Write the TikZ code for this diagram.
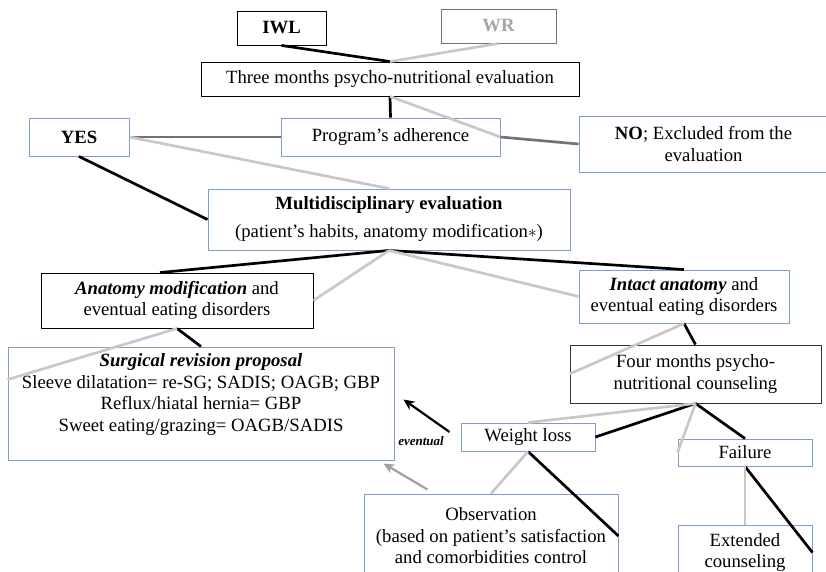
\documentclass[tikz,border=0pt]{standalone}
\usepackage{fontspec}
\setmainfont{Liberation Serif}
\usetikzlibrary{arrows.meta}
\definecolor{boxblue}{RGB}{126,158,196}
\definecolor{lightline}{RGB}{200,200,200}
\definecolor{darkline}{RGB}{115,115,115}
\definecolor{wrgray}{RGB}{165,165,165}
\definecolor{arrowgray}{RGB}{160,160,160}

\begin{document}
\begin{tikzpicture}[x=1pt, y=-1pt,
    every node/.style={font=\fontsize{18.7}{21.5}\selectfont, align=center, inner sep=0pt},
    blackbox/.style={draw=black, line width=0.9pt},
    bluebox/.style={draw=boxblue, line width=0.9pt},
    blackline/.style={line width=2.7pt, black},
    grayline/.style={line width=2.7pt, lightline},
    darkgrayline/.style={line width=2.7pt, darkline}]
    \clip (0,0) rectangle (826,571);

    % First place all the boxes
    \node[blackbox, minimum width=89pt, minimum height=34pt] (iwl) at (281.5,28) {\textbf{IWL}};
    \node[blackbox, draw=darkline, minimum width=115pt, minimum height=34pt, text=wrgray] (wr) at (498.5,26) {\textbf{WR}};
    \node[blackbox, minimum width=378pt, minimum height=34pt] (three) at (390,79) {Three months psycho-nutritional\ evaluation};
    \node[bluebox, minimum width=100pt, minimum height=38pt] (yes) at (79,137) {\textbf{YES}};
    \node[bluebox, minimum width=219pt, minimum height=38pt] (adher) at (390.5,137) {Program's adherence};
    \node[bluebox, minimum width=249pt, minimum height=56pt] (no) at (703.5,144) {\textbf{NO}; Excluded\ from the\\evaluation};
    \node[bluebox, minimum width=362pt, minimum height=61pt] (multi) at (389,219.5) {\textbf{Multidisciplinary\ evaluation}\\[6.5pt](patient's habits, anatomy modification$\ast$)};
    \node[blackbox, minimum width=272pt, minimum height=55pt] (anat) at (177,300.5) {\textbf{\textit{Anatomy modification}} and\\eventual eating disorders};
    \node[bluebox, minimum width=210pt, minimum height=53pt] (intact) at (684,296.5) {\textbf{\textit{Intact anatomy}} and\\eventual eating disorders};
    \node[bluebox, minimum width=386pt, minimum height=113pt] (surg) at (201,403.5) {\textbf{\textit{Surgical revision proposal}}\\Sleeve dilatation= re-SG; SADIS;\ OAGB; GBP\\Reflux/hiatal hernia= GBP\\Sweet eating/grazing=\ OAGB/SADIS\\\mbox{}};
    \node[blackbox, draw=black!80, minimum width=251pt, minimum height=58pt] (four) at (695.5,374) {Four months psycho-\\nutritional counseling};
    \node[bluebox, minimum width=134pt, minimum height=28pt] (wloss) at (528,437) {Weight\ loss};
    \node[bluebox, minimum width=134pt, minimum height=27pt] (fail) at (745,452.5) {Failure};
    \node[bluebox, minimum width=254pt, minimum height=84pt] (obs) at (491,536) {Observation\\(based on patient's satisfaction\\and comorbidities control};
    \node[bluebox, minimum width=134pt, minimum height=55pt] (ext) at (745,552.5) {Extended\\counseling};
    \node[font=\fontsize{13}{15}\selectfont\bfseries\itshape] (evlabel) at (421,441) {eventual};

    % Then the connectors
    \draw[blackline] (iwl.south) -- (three.north);
    \draw[grayline] (wr.south) -- (three.north);
    \draw[blackline] (three.south) -- (adher.north);
    \draw[grayline] (three.south) -- (adher.east);
    \draw[darkgrayline] (yes.east) -- (adher.west);
    \draw[darkgrayline] (adher.east) -- (no.west);
    \draw[grayline] (yes.east) -- (multi.north);
    \draw[blackline] (yes.south) -- (multi.west);
    \draw[blackline] (multi.south) -- ([xshift=-17pt]anat.north);
    \draw[blackline] (multi.south) -- (intact.north);
    \draw[grayline] (multi.south) -- (anat.east);
    \draw[grayline] (multi.south) -- (intact.west);
    \draw[blackline] (anat.south) -- (surg.north);
    \draw[grayline] (anat.south) -- ([yshift=-33pt]surg.north west);
    \draw[blackline] (intact.south) -- (four.north);
    \draw[grayline] (intact.south) -- (four.west);
    \draw[blackline] (four.south) -- (wloss.east);
    \draw[grayline] (four.south) -- (wloss.north);
    \draw[blackline] (four.south) -- (fail.north);
    \draw[grayline] (four.south) -- (fail.west);
    \draw[blackline] (wloss.south) -- (obs.east);
    \draw[grayline] (wloss.south) -- (obs.north);
    \draw[blackline] (fail.south) -- (ext.east);
    \draw[grayline] (fail.south) -- (ext.north);

    % Arrows back to the surgical proposal
    \draw[line width=2.2pt, -{Stealth[length=11pt, width=10pt]}] ([xshift=-11pt, yshift=5pt]wloss.west) -- ([xshift=9pt, yshift=4pt]surg.east);
    \draw[line width=2.2pt, arrowgray, -{Stealth[length=11pt, width=10pt]}] ([xshift=64pt, yshift=4pt]obs.north west) -- ([xshift=-11pt, yshift=-3pt]surg.south east);
\end{tikzpicture}
\end{document}
